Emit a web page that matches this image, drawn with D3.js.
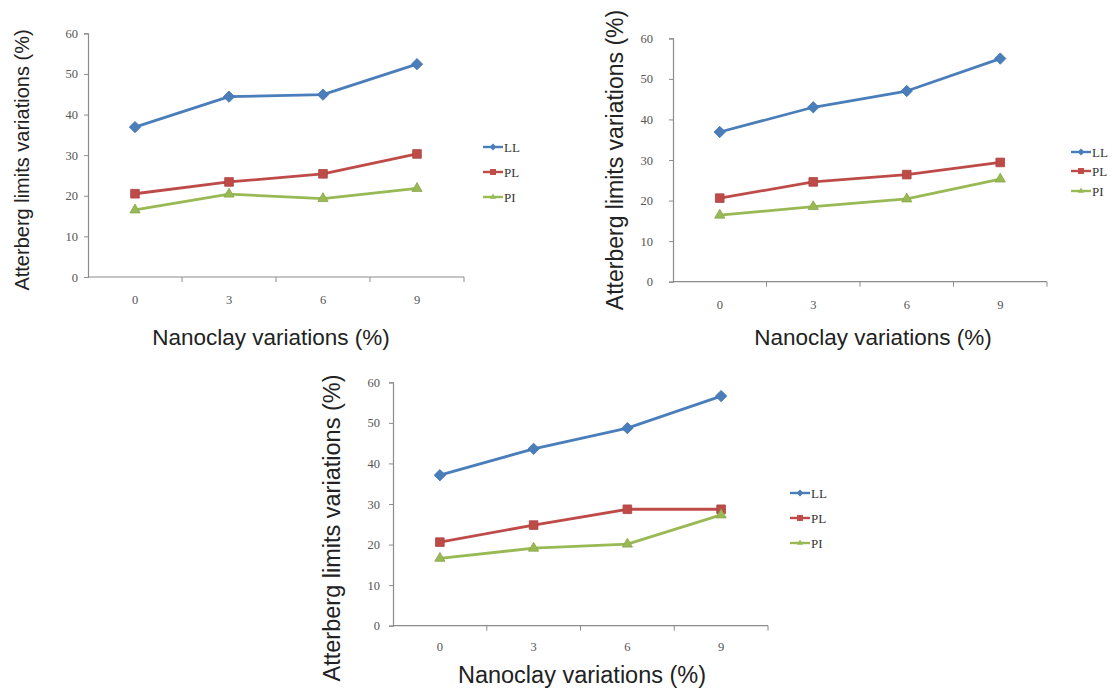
<!DOCTYPE html>
<html>
<head>
<meta charset="utf-8">
<script src="https://cdn.jsdelivr.net/npm/d3@7"></script>
<style>
  html, body { margin: 0; padding: 0; background: #fff; }
  svg { display: block; }
</style>
</head>
<body>
<svg id="fig" width="1117" height="689"></svg>
<script>
// Nanoclay content (%) on the category axis
const categories = ["0", "3", "6", "9"];
const seriesNames = ["LL", "PL", "PI"];
const yTicks = [0, 10, 20, 30, 40, 50, 60];

// Atterberg limits (%) for the three soil mixes
const llA = [36.9, 44.4, 44.9, 52.4];
const plA = [20.5, 23.4, 25.4, 30.3];
const piA = [16.5, 20.4, 19.3, 21.8];

const llB = [36.9, 43.0, 47.0, 55.0];
const plB = [20.6, 24.6, 26.4, 29.4];
const piB = [16.4, 18.5, 20.4, 25.3];

const llC = [37.1, 43.6, 48.7, 56.6];
const plC = [20.6, 24.8, 28.7, 28.7];
const piC = [16.6, 19.1, 20.1, 27.3];

const colors = { LL: "#4a7ebb", PL: "#be4b48", PI: "#98b954" };
const xTitle = "Nanoclay variations (%)";
const yTitle = "Atterberg limits variations (%)";

// panel frames on the page
const panels = [
  { series: [llA, plA, piA], x0: 88, x1: 464, yBase: 277, yTop: 33.3,
    tickGap: 10, xLabelY: 304, legX: 483, legY: [147, 172, 197],
    xt: [271, 345, 22.5], yt: [22, 160, 20] },
  { series: [llB, plB, piB], x0: 673, x1: 1047, yBase: 281.7, yTop: 38.3,
    tickGap: 20, xLabelY: 309, legX: 1071, legY: [152, 171, 191],
    xt: [873, 345, 22.5], yt: [615, 160, 23] },
  { series: [llC, plC, piC], x0: 393, x1: 768, yBase: 625.7, yTop: 382.3,
    tickGap: 13, xLabelY: 651, legX: 790, legY: [493, 518, 543],
    xt: [582, 683, 23.5], yt: [332, 528, 23.5] }
];

const svg = d3.select("#fig");
const axisColor = "#8c8c8c";
const tickFont = "'Liberation Serif', 'DejaVu Serif', serif";
const titleFont = "'Liberation Sans', Arial, sans-serif";

function marker(name, size) {
  if (name === "LL") return d3.symbol().type(d3.symbolDiamond2).size(size * 1.1)();
  if (name === "PL") return d3.symbol().type(d3.symbolSquare2).size(size)();
  return d3.symbol().type(d3.symbolTriangle2).size(size)();
}

panels.forEach(p => {
  const g = svg.append("g");
  const x = d3.scaleBand().domain(categories).range([p.x0, p.x1]);
  const y = d3.scaleLinear().domain([0, 60]).range([p.yBase, p.yTop]);

  // y axis
  const ya = g.append("g").attr("transform", `translate(${p.x0},0)`)
    .call(d3.axisLeft(y).tickValues(yTicks).tickSize(4).tickPadding(p.tickGap - 4));
  ya.select(".domain").attr("stroke", axisColor).attr("stroke-width", 1.2);
  ya.selectAll(".tick line").attr("stroke", axisColor);
  ya.selectAll(".tick text").attr("fill", "#555").style("font-family", tickFont).style("font-size", "12.5px");

  // x axis: ticks sit between categories
  const xa = g.append("g").attr("transform", `translate(0,${p.yBase})`);
  xa.append("line").attr("x1", p.x0).attr("x2", p.x1).attr("stroke", axisColor).attr("stroke-width", 1.2);
  const edges = categories.map(c => x(c) + x.bandwidth());
  xa.selectAll("line.tk").data(edges).enter().append("line").attr("class", "tk")
    .attr("x1", d => d).attr("x2", d => d).attr("y1", 0).attr("y2", 5).attr("stroke", axisColor);
  g.selectAll("text.xl").data(categories).enter().append("text").attr("class", "xl")
    .attr("x", d => x(d) + x.bandwidth() / 2).attr("y", p.xLabelY)
    .attr("text-anchor", "middle").attr("fill", "#555")
    .style("font-family", tickFont).style("font-size", "12.5px").text(d => d);

  // series lines and markers
  const line = d3.line().x((d, i) => x(categories[i]) + x.bandwidth() / 2).y(d => y(d));
  p.series.forEach((vals, si) => {
    const name = seriesNames[si];
    g.append("path").datum(vals).attr("d", line).attr("fill", "none")
      .attr("stroke", colors[name]).attr("stroke-width", 2.8).attr("stroke-linejoin", "round");
    const size = name === "PL" ? 95 : 75;
    g.selectAll(null).data(vals).enter().append("path")
      .attr("d", marker(name, size))
      .attr("transform", (d, i) => `translate(${x(categories[i]) + x.bandwidth() / 2},${y(d)})`)
      .attr("fill", colors[name]).attr("stroke", d3.color(colors[name]).darker(0.3)).attr("stroke-width", 0.8);
  });

  // legend
  seriesNames.forEach((name, si) => {
    const ly = p.legY[si];
    g.append("line").attr("x1", p.legX).attr("x2", p.legX + 20).attr("y1", ly).attr("y2", ly)
      .attr("stroke", colors[name]).attr("stroke-width", 2.4);
    g.append("path").attr("d", marker(name, name === "PL" ? 45 : 28))
      .attr("transform", `translate(${p.legX + 10},${ly})`).attr("fill", colors[name]);
    g.append("text").attr("x", p.legX + 21).attr("y", ly).attr("dy", "0.35em")
      .attr("fill", "#333").style("font-family", tickFont).style("font-size", "13px").text(name);
  });

  // axis titles
  g.append("text").attr("x", p.xt[0]).attr("y", p.xt[1]).attr("text-anchor", "middle")
    .attr("fill", "#222").style("font-family", titleFont).style("font-size", p.xt[2] + "px").text(xTitle);
  g.append("text").attr("transform", `translate(${p.yt[0]},${p.yt[1]}) rotate(-90)`)
    .attr("text-anchor", "middle").attr("dy", "0.35em")
    .attr("fill", "#222").style("font-family", titleFont).style("font-size", p.yt[2] + "px").text(yTitle);
});
</script>
</body>
</html>
